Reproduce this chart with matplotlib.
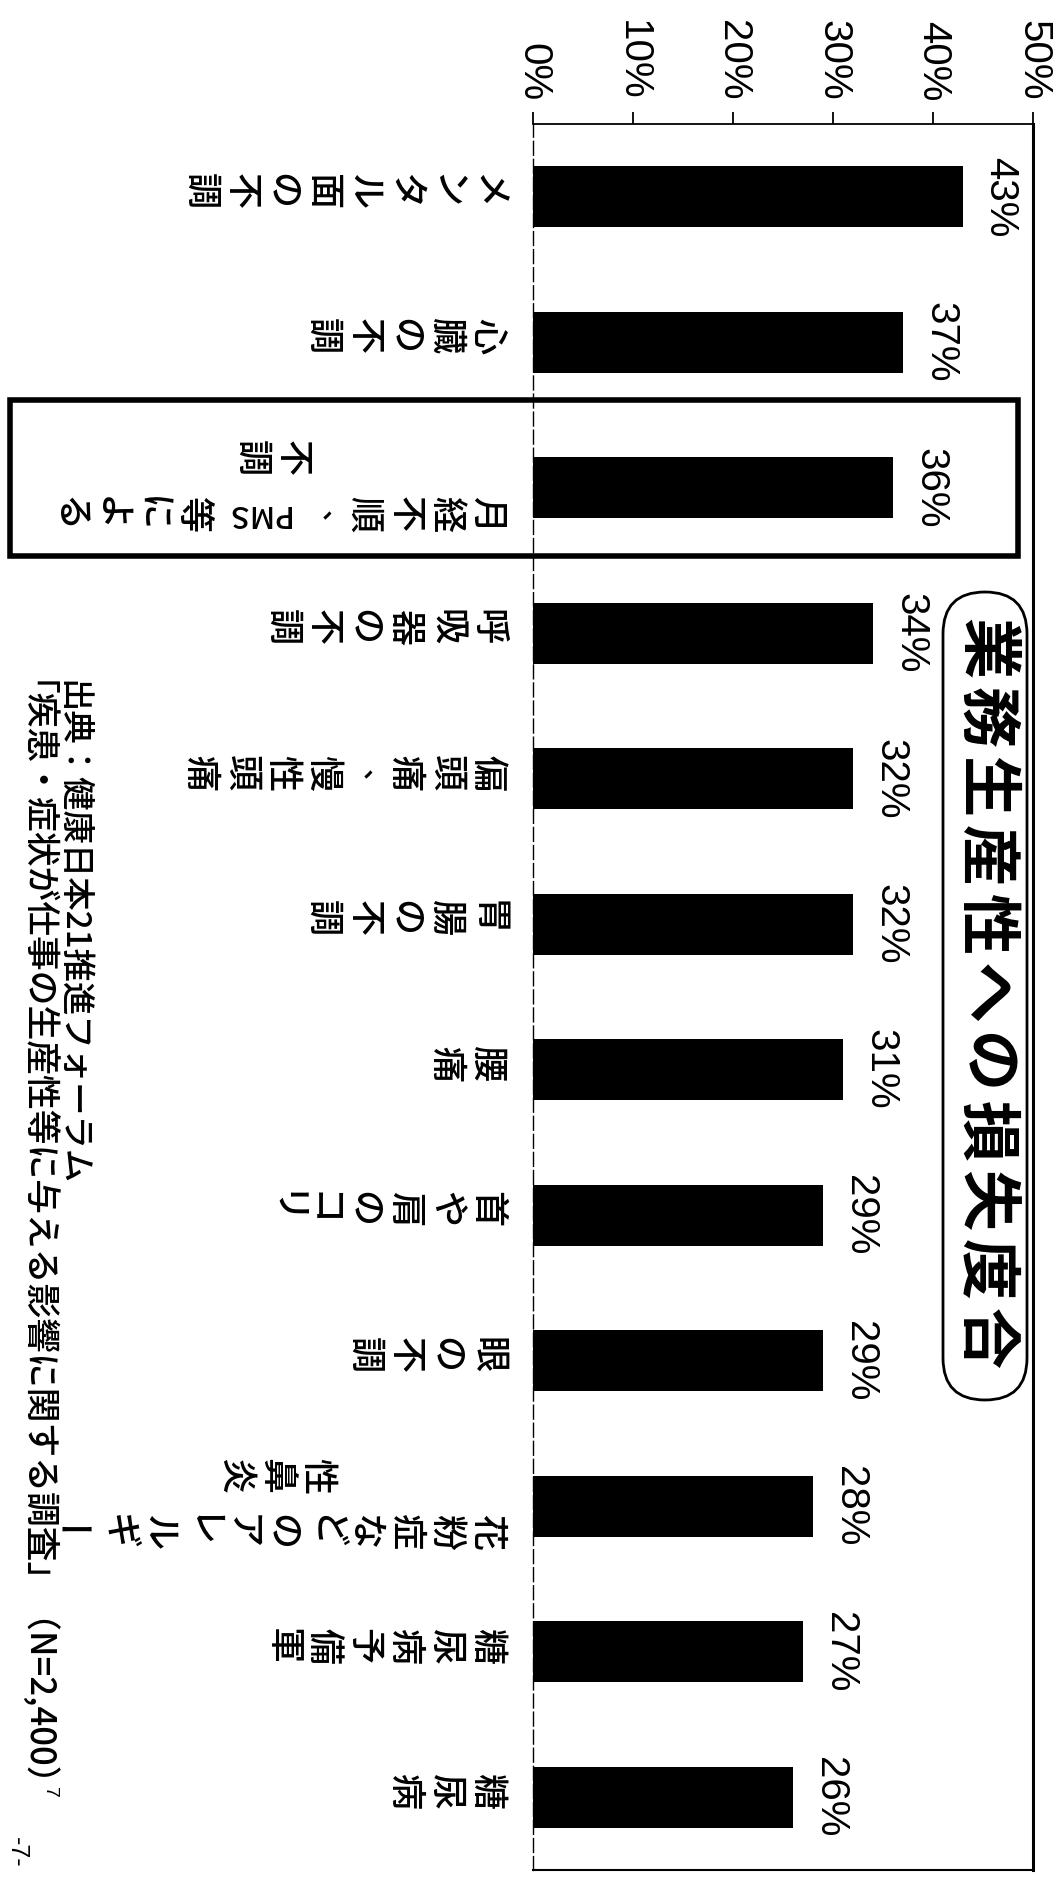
import matplotlib
matplotlib.use("Agg")
import matplotlib.pyplot as plt
import matplotlib.transforms as mtransforms
from matplotlib.patches import Rectangle, FancyBboxPatch

# ---------------- data ----------------
categories = [
    ["メンタル面の不調"],
    ["心臓の不調"],
    ["月経不順、PMS等による", "不調"],
    ["呼吸器の不調"],
    ["偏頭痛、慢性頭痛"],
    ["胃腸の不調"],
    ["腰痛"],
    ["首や肩のコリ"],
    ["眼の不調"],
    ["花粉症などのアレルギー", "性鼻炎"],
    ["糖尿病予備軍"],
    ["糖尿病"],
]
values = [43, 37, 36, 34, 32, 32, 31, 29, 29, 28, 27, 26]
value_labels = [f"{v}%" for v in values]
xticks = [0, 10, 20, 30, 40, 50]
xtick_labels = ["0%", "10%", "20%", "30%", "40%", "50%"]
title = "業務生産性への損失度合"
highlight_index = 2
source_lines = ["出典：健康日本21推進フォーラム",
                "「疾患・症状が仕事の生産性等に与える影響に関する調査」（N=2,400）"]

# ---------------- layout ----------------
W, H = 1058, 1877
JP = ["Noto Sans CJK JP", "DejaVu Sans"]
LAT = ["Liberation Sans Narrow", "Liberation Sans", "DejaVu Sans"]

fig = plt.figure(figsize=(W / 100, H / 100), dpi=100)
fig.patch.set_facecolor("white")
ax = fig.add_axes([533 / W, 1 - 1870 / H, 500 / W, (1870 - 124) / H])

n = len(values)
ax.barh(range(n), values, height=0.42, color="black")
ax.set_xlim(0, 50)
ax.set_ylim(n - 0.5, -0.5)
ax.set_yticks([])
ax.xaxis.tick_top()
ax.set_xticks(xticks)
ax.set_xticklabels(xtick_labels, rotation=-90, fontsize=29, family=LAT)
ax.tick_params(axis="x", direction="out", length=8.6, width=1.3, pad=8,
               top=True, bottom=False, labeltop=True, labelbottom=False)
ax.spines["top"].set_linewidth(1.3)
ax.spines["left"].set_linewidth(1.0)
ax.spines["left"].set_linestyle((0, (10, 3)))
ax.spines["right"].set_linewidth(2.2)
ax.spines["bottom"].set_linewidth(1.5)

# value labels
for i, (v, lab) in enumerate(zip(values, value_labels)):
    ax.text(v + 2.6, i, lab, rotation=-90, rotation_mode="anchor",
            ha="center", va="baseline", fontsize=29, family=LAT)

# pixel transform (x right, y down, image pixels)
pix = mtransforms.Affine2D().scale(1 / W, -1 / H).translate(0, 1) + fig.transFigure
blend = mtransforms.blended_transform_factory(pix, ax.transData)


def off(dx, dy):
    return blend + mtransforms.ScaledTranslation(dx / 100, -dy / 100, fig.dpi_scale_trans)


# category labels: vertical (tategaki) text, shown rotated 90 deg clockwise
P = 41.0      # character pitch in px
R = 507.0     # right edge of first column
LAT_CELL = 0.73
FS = 26
WT = "medium"


def tokens(s):
    out = []
    buf = ""
    for ch in s:
        if ch.isascii() and ch.isalpha():
            buf += ch
        else:
            if buf:
                out.append(buf)
                buf = ""
            out.append(ch)
    if buf:
        out.append(buf)
    return out


def col_len(s):
    return sum(len(t) * LAT_CELL if t.isascii() else 1 for t in tokens(s)) * P


def draw_column(s, right, i, dy):
    pos = right
    for t in tokens(s):
        w = len(t) * LAT_CELL * P if t.isascii() else P
        cx = pos - w / 2
        kw = dict(rotation_mode="anchor", ha="center", va="center",
                  family=JP, fontweight=WT, clip_on=False)
        if t.isascii():
            ax.text(0, i, t, transform=off(cx, dy), rotation=180, fontsize=22, **kw)
        elif t == "ー":
            ax.text(0, i, t, transform=off(cx, dy), rotation=0, fontsize=FS, **kw)
        elif t == "、":
            ax.text(0, i, t, transform=off(cx + 8, dy + 10), rotation=-90,
                    fontsize=20, **kw)
        else:
            ax.text(0, i, t, transform=off(cx, dy), rotation=-90, fontsize=FS, **kw)
        pos -= w


for i, cols in enumerate(categories):
    if len(cols) == 1:
        draw_column(cols[0], R, i, -6)
    else:
        L1 = col_len(cols[0])
        c1 = R - L1 / 2
        draw_column(cols[0], R, i, 26)
        L2 = col_len(cols[1])
        draw_column(cols[1], c1 + L2 / 2 - 6, i, -30)

# highlight box around one category
ax.add_patch(Rectangle((10, highlight_index - 0.6), 1008, 1.07, transform=blend,
                       fill=False, lw=4, edgecolor="black", clip_on=False))

# title in rounded box
fig.patches.append(FancyBboxPatch((943, 592), 84, 808,
                                  boxstyle="round,pad=0,rounding_size=42",
                                  transform=pix, fill=False, lw=2, edgecolor="black"))
TP = 69.0
for k, ch in enumerate(title):
    fig.text(985, 614 + TP * (k + 0.5), ch, transform=pix, rotation=-90,
             rotation_mode="anchor", ha="center", va="center",
             fontsize=44, fontweight="bold", family=JP)

# source lines
fig.text(72, 680, source_lines[0], transform=pix, rotation=-90, rotation_mode="anchor",
         ha="left", va="center", fontsize=24, family=JP, fontweight=WT)
fig.text(18, 680, source_lines[1], transform=pix, rotation=-90, rotation_mode="anchor",
         ha="left", va="center", fontsize=25, family=JP, fontweight=WT)
fig.text(50, 1792, "7", transform=pix, rotation=-90, rotation_mode="anchor",
         ha="center", va="center", fontsize=14, family=LAT)
fig.text(17, 1852, "-7-", transform=pix, rotation=-90, rotation_mode="anchor",
         ha="center", va="center", fontsize=18, family=LAT)

fig.savefig("out.png", dpi=100, facecolor="white")
